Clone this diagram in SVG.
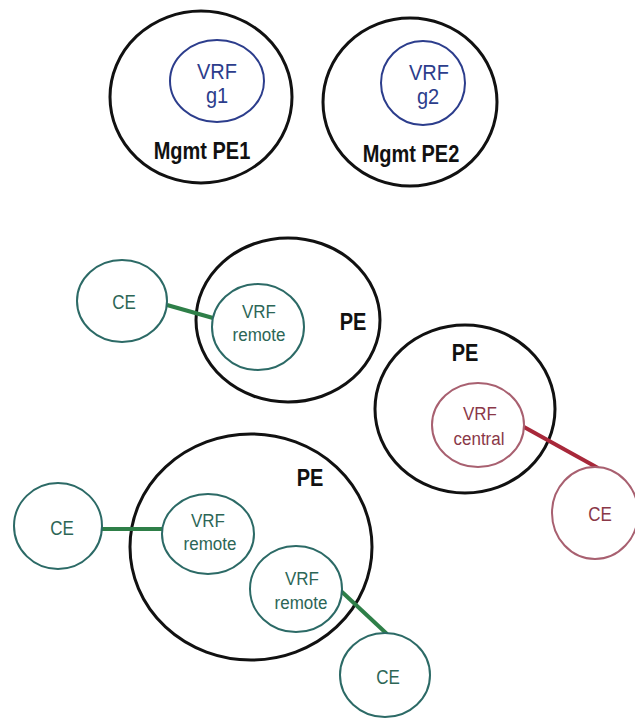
<svg xmlns="http://www.w3.org/2000/svg" width="635" height="718" viewBox="0 0 635 718">
<style>
text{font-family:"Liberation Sans",Arial,sans-serif;text-anchor:middle}
.pe{fill:none;stroke:#111;stroke-width:3}
.lbl{font-weight:bold;font-size:20px;fill:#111}
.g{fill:none;stroke:#2c3d8c;stroke-width:2}
.gt{font-size:20px;fill:#2c3d8c}
.r{fill:#fff;stroke:#2c6a66;stroke-width:2}
.rt{font-size:17px;fill:#2c6656}
.c{fill:#fff;stroke:#a86070;stroke-width:2}
.ct{font-size:17px;fill:#8a3848}
.lg{stroke:#2e7f48;stroke-width:4;fill:none}
.lr{stroke:#a8283a;stroke-width:4;fill:none}
</style>
<rect width="635" height="718" fill="#fff"/>
<g id="mgmt-pe1">
<ellipse class="pe" cx="201" cy="97" rx="91" ry="86"/>
<text class="lbl" transform="translate(202,159) scale(1,1.15)">Mgmt PE1</text>
</g>
<g id="vrf-g1">
<ellipse class="g" cx="217" cy="81" rx="47" ry="41"/>
<text class="gt" transform="translate(217,79) scale(1,1.12)">VRF</text>
<text class="gt" transform="translate(217,103) scale(1,1.12)">g1</text>
</g>
<g id="mgmt-pe2">
<ellipse class="pe" cx="410" cy="102" rx="87" ry="84"/>
<text class="lbl" transform="translate(411,162) scale(1,1.15)">Mgmt PE2</text>
</g>
<g id="vrf-g2">
<ellipse class="g" cx="423" cy="83" rx="42" ry="42"/>
<text class="gt" transform="translate(429,80) scale(1,1.12)">VRF</text>
<text class="gt" transform="translate(428,104) scale(1,1.12)">g2</text>
</g>
<g id="pe-a">
<ellipse class="pe" cx="288" cy="320" rx="92" ry="82"/>
<text class="lbl" transform="translate(353,330) scale(1,1.15)">PE</text>
</g>
<g id="pe-b">
<ellipse class="pe" cx="465" cy="409" rx="90" ry="84"/>
<text class="lbl" transform="translate(465,361) scale(1,1.15)">PE</text>
</g>
<g id="pe-c">
<ellipse class="pe" cx="251" cy="547" rx="121" ry="113"/>
<text class="lbl" transform="translate(310,486) scale(1,1.15)">PE</text>
</g>
<g id="connectors">
<line class="lg" x1="167" y1="305" x2="213" y2="318"/>
<line class="lr" x1="524" y1="427" x2="598" y2="468"/>
<line class="lg" x1="102" y1="529" x2="163" y2="529"/>
<line class="lg" x1="341" y1="591" x2="387" y2="634"/>
</g>
<g id="ce-a">
<ellipse class="r" cx="122" cy="301" rx="45" ry="41"/>
<text class="rt" transform="translate(124,309) scale(1,1.15)">CE</text>
</g>
<g id="vrf-remote-a">
<ellipse class="r" cx="258" cy="327" rx="46" ry="43"/>
<text class="rt" transform="translate(259,318) scale(1,1.12)">VRF</text>
<text class="rt" transform="translate(259,341) scale(1,1.12)">remote</text>
</g>
<g id="vrf-central">
<ellipse class="c" cx="478" cy="425" rx="46" ry="42"/>
<text class="ct" transform="translate(480,420) scale(1,1.12)">VRF</text>
<text class="ct" transform="translate(479,445) scale(1,1.12)">central</text>
</g>
<g id="ce-b">
<ellipse class="c" cx="595" cy="513" rx="43" ry="46"/>
<text class="ct" transform="translate(600,521) scale(1,1.15)">CE</text>
</g>
<g id="ce-c">
<ellipse class="r" cx="58" cy="526" rx="44" ry="43"/>
<text class="rt" transform="translate(62,535) scale(1,1.15)">CE</text>
</g>
<g id="vrf-remote-b">
<ellipse class="r" cx="208" cy="534" rx="46" ry="40"/>
<text class="rt" transform="translate(208,527) scale(1,1.12)">VRF</text>
<text class="rt" transform="translate(210,550) scale(1,1.12)">remote</text>
</g>
<g id="vrf-remote-c">
<ellipse class="r" cx="296" cy="589" rx="46" ry="43"/>
<text class="rt" transform="translate(302,585) scale(1,1.12)">VRF</text>
<text class="rt" transform="translate(301,609) scale(1,1.12)">remote</text>
</g>
<g id="ce-d">
<ellipse class="r" cx="385" cy="675" rx="45" ry="42"/>
<text class="rt" transform="translate(388,684) scale(1,1.15)">CE</text>
</g>
</svg>
